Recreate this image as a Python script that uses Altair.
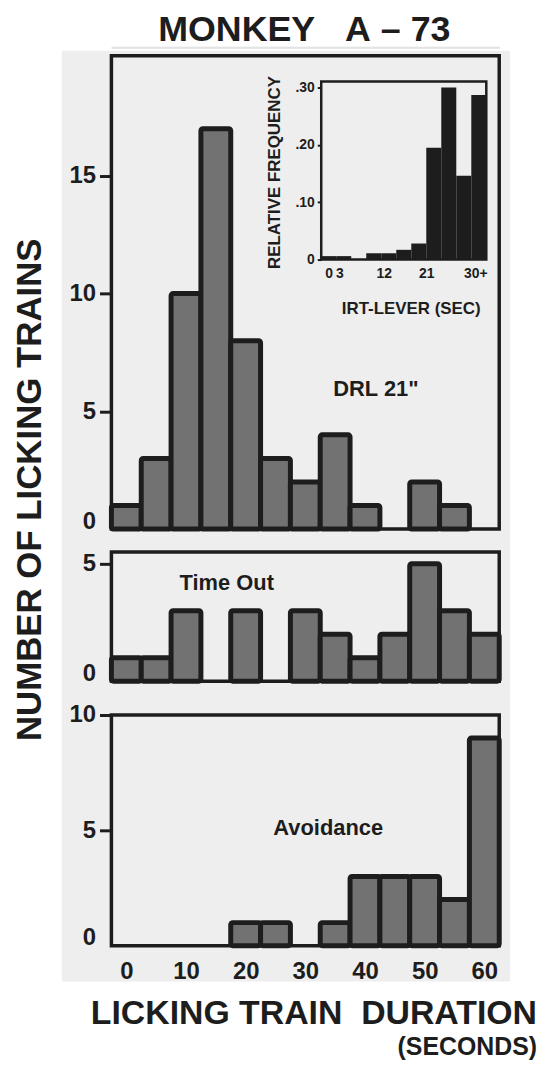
import altair as alt
import pandas as pd

# ---------------- data ----------------
BIN_CENTERS = [0, 5, 10, 15, 20, 25, 30, 35, 40, 45, 50, 55, 60]
BIN_WIDTH = 5
DRL_COUNTS = [1, 3, 10, 17, 8, 3, 2, 4, 1, 0, 2, 1, 0]
TIMEOUT_COUNTS = [1, 1, 3, 0, 3, 0, 3, 2, 1, 2, 5, 3, 2]
AVOID_COUNTS = [0, 0, 0, 0, 1, 1, 0, 1, 3, 3, 3, 2, 9]

X_TICKS = [0, 10, 20, 30, 40, 50, 60]
DRL_Y_TICKS = [0, 5, 10, 15]
TIMEOUT_Y_TICKS = [0, 5]
AVOID_Y_TICKS = [0, 5, 10]

INSET_BIN_START = [0, 3, 6, 9, 12, 15, 18, 21, 24, 27, 30]
INSET_BIN_WIDTH = 3
INSET_FREQ = [0.006, 0.006, 0.0, 0.011, 0.011, 0.017, 0.028, 0.195, 0.300, 0.146, 0.287]
INSET_X_TICKS = [1.5, 3.6, 12.5, 21, 30.8]
INSET_X_LABELS = ["0", "3", "12", "21", "30+"]
INSET_Y_TICKS = [0, 0.1, 0.2, 0.3]
INSET_Y_LABELS = ["0", ".10", ".20", ".30"]

TITLE = "MONKEY\u00a0\u00a0\u00a0A\u00a0\u2013\u00a073"
Y_TITLE = "NUMBER OF LICKING TRAINS"
X_TITLE = "LICKING TRAIN\u00a0\u00a0DURATION"
X_SUBTITLE = "(SECONDS)"

# ---------------- layout / style ----------------
W = 390
H_TOP, H_MID, H_BOT = 476, 130, 232
TOP_YMAX, MID_YMAX, BOT_YMAX = 20.1, 5.5, 10
FONT = "Liberation Sans"
INK = "#1d1d1d"
BAR_FILL = "#727272"
BG = "#eeeeee"
X_DOMAIN = [BIN_CENTERS[0] - BIN_WIDTH / 2, BIN_CENTERS[-1] + BIN_WIDTH / 2]

# inset placement inside the top panel (pixels from panel origin)
IN_LEFT, IN_RIGHT = 211, 377
IN_ZERO, IN_TOP30, IN_FRAME_TOP = 205, 32, 26
in_x_max = INSET_BIN_START[-1] + INSET_BIN_WIDTH
kx = (IN_RIGHT - IN_LEFT) / in_x_max
in_xa = -IN_LEFT / kx
in_xb = in_xa + W / kx
ky = (IN_ZERO - IN_TOP30) / 0.30
in_ya = -(H_TOP - IN_ZERO) / ky
in_yb = in_ya + H_TOP / ky
in_frame_top = (H_TOP - IN_FRAME_TOP) / ky + in_ya


def label_expr(values, labels):
    expr = "''"
    for v, l in reversed(list(zip(values, labels))):
        expr = f"(abs(datum.value - {v}) < 0.001 ? '{l}' : {expr})"
    return expr


def y_axis(ticks, **title_kw):
    return alt.Axis(
        values=ticks, format="d", domain=False, grid=False,
        tickSize=12, tickWidth=3, tickColor=INK,
        tickOpacity={"condition": {"test": "datum.value == 0", "value": 0}, "value": 1},
        labelOffset={"condition": {"test": "datum.value == 0", "value": -8}, "value": 0},
        labelFont=FONT, labelFontSize=24, labelFontWeight="bold", labelColor=INK,
        labelPadding=4, **title_kw,
    )


def hist(counts, ymax, yaxis, x_axis):
    df = pd.DataFrame({"center": BIN_CENTERS, "count": counts})
    return (
        alt.Chart(df)
        .transform_filter("datum.count > 0")
        .transform_calculate(x0=f"datum.center - {BIN_WIDTH / 2}", x1=f"datum.center + {BIN_WIDTH / 2}")
        .mark_bar(fill=BAR_FILL, stroke=INK, strokeWidth=5, cornerRadius=2)
        .encode(
            x=alt.X("x0:Q", scale=alt.Scale(domain=X_DOMAIN, nice=False, zero=False), axis=x_axis),
            x2="x1:Q",
            y=alt.Y("count:Q", scale=alt.Scale(domain=[0, ymax], nice=False), axis=yaxis),
            y2=alt.datum(0),
        )
    )


def label(text, x, y, size=21, align="center", baseline="middle"):
    return alt.Chart(pd.DataFrame({"t": [text]})).mark_text(
        font=FONT, fontSize=size, fontWeight="bold", color=INK, align=align, baseline=baseline
    ).encode(text="t:N", x=alt.value(x), y=alt.value(y))


VIEW = alt.ViewBackground(stroke=INK, strokeWidth=3.5)

# background (gray page) + title
bg_rect = (
    alt.Chart(pd.DataFrame({"a": [0]}))
    .mark_rect(color=BG)
    .encode(x=alt.value(-50), x2=alt.value(401), y=alt.value(4), y2=alt.value(940))
)
bg = alt.layer(bg_rect, label(TITLE, 194, -6, 36, baseline="alphabetic")).properties(width=W, height=1)

# top panel
top_bars = hist(
    DRL_COUNTS, TOP_YMAX,
    y_axis(DRL_Y_TICKS, title=Y_TITLE, titleFont=FONT, titleFontSize=35, titleFontWeight="bold",
           titleColor=INK, titleAngle=270, titleAlign="center", titleBaseline="middle",
           titleX=-82, titleY=436),
    None,
)
main = alt.layer(top_bars, label("DRL 21\"", 266, 335, 22))

inset_df = pd.DataFrame({"start": INSET_BIN_START, "freq": INSET_FREQ})
inset_bars = (
    alt.Chart(inset_df)
    .transform_filter("datum.freq > 0")
    .transform_calculate(end=f"datum.start + {INSET_BIN_WIDTH}")
    .mark_bar(color=INK)
    .encode(
        x=alt.X("start:Q", scale=alt.Scale(domain=[in_xa, in_xb], nice=False, zero=False),
                axis=alt.Axis(orient="bottom", offset=-(H_TOP - IN_ZERO), values=INSET_X_TICKS,
                              labelExpr=label_expr(INSET_X_TICKS, INSET_X_LABELS),
                              ticks=False, domain=False, grid=False,
                              labelFont=FONT, labelFontSize=14, labelFontWeight="bold", labelColor=INK,
                              labelPadding=7,
                              title="IRT-LEVER (SEC)", titleFont=FONT, titleFontSize=17,
                              titleFontWeight="bold", titleColor=INK, titleAlign="center",
                              titleBaseline="middle", titleX=301, titleY=49)),
        x2="end:Q",
        y=alt.Y("freq:Q", scale=alt.Scale(domain=[in_ya, in_yb], nice=False, zero=False),
                axis=alt.Axis(orient="left", offset=-IN_LEFT, values=INSET_Y_TICKS,
                              labelExpr=label_expr(INSET_Y_TICKS, INSET_Y_LABELS),
                              tickSize=4, tickWidth=2, tickColor=INK, domain=False, grid=False,
                              labelFont=FONT, labelFontSize=14, labelFontWeight="bold", labelColor=INK,
                              labelPadding=3,
                              title="RELATIVE FREQUENCY", titleFont=FONT, titleFontSize=17,
                              titleFontWeight="bold", titleColor=INK, titleAngle=270,
                              titleAlign="center", titleBaseline="middle", titleX=-47, titleY=117)),
        y2=alt.datum(0),
    )
)
frame_df = pd.DataFrame({"x0": [INSET_BIN_START[0]], "x1": [in_x_max], "y0": [0.0], "y1": [in_frame_top]})
inset_frame = alt.Chart(frame_df).mark_rect(filled=False, stroke=INK, strokeWidth=2.5).encode(
    x="x0:Q", x2="x1:Q", y="y0:Q", y2="y1:Q"
)
inset = alt.layer(inset_frame, inset_bars)

top = (
    alt.layer(main, inset)
    .resolve_scale(x="independent", y="independent")
    .properties(width=W, height=H_TOP, view=VIEW)
)

mid = alt.layer(
    hist(TIMEOUT_COUNTS, MID_YMAX, y_axis(TIMEOUT_Y_TICKS, title=None), None),
    label("Time Out", 116, 31, 22),
).properties(width=W, height=H_MID, view=VIEW)

bottom_x_axis = alt.Axis(values=X_TICKS, format="d", ticks=False, tickSize=0, domain=False, grid=False,
                         labelFont=FONT, labelFontSize=24, labelFontWeight="bold", labelColor=INK,
                         labelPadding=14, title=None)
bottom = alt.layer(
    hist(AVOID_COUNTS, BOT_YMAX, y_axis(AVOID_Y_TICKS, title=None), bottom_x_axis),
    label("Avoidance", 218, 114, 22),
    label(X_TITLE, 428, 311, 34, align="right", baseline="alphabetic"),
    label(X_SUBTITLE, 428, 342, 25, align="right", baseline="alphabetic"),
).properties(width=W, height=H_BOT, view=VIEW)


def spacer(h):
    return alt.Chart(pd.DataFrame({"a": [0]})).mark_point(opacity=0).properties(width=W, height=h)


chart = (
    alt.vconcat(bg, top, spacer(7), mid, spacer(18), bottom, spacing=8, bounds="flush")
    .properties(padding={"left": 3, "top": 0, "right": 0, "bottom": 0})
    .configure_view(stroke="transparent")
    .configure(background="white")
)

chart.save("out.html", embed_options={"renderer": "svg", "actions": False})
